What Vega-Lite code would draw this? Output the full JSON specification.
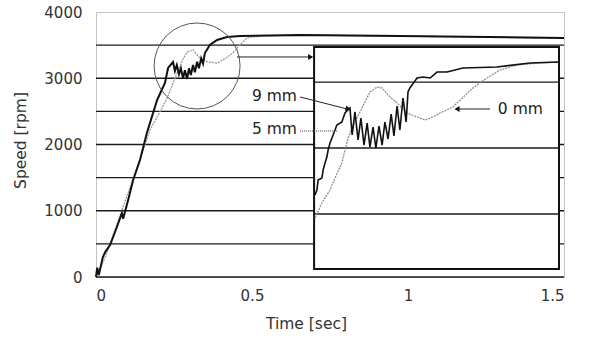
{
  "$schema": "https://vega.github.io/schema/vega-lite/v6.json",
  "width": 468,
  "height": 265,
  "autosize": "none",
  "padding": {"left": 96, "top": 12, "right": 27, "bottom": 65},
  "background": "white",
  "config": {
    "view": {"stroke": "#8a8a8a", "strokeDash": [1, 1], "strokeWidth": 1},
    "font": "DejaVu Sans",
    "axis": {"labelFont": "DejaVu Sans", "titleFont": "DejaVu Sans", "labelFontSize": 15, "titleFontSize": 15.5, "labelColor": "#333", "titleColor": "#333", "titleFontWeight": "normal", "domain": false, "ticks": false, "grid": false}
  },
  "datasets": {
    "curves": [
      {"series": "9 mm", "t": 0, "s": 0},
      {"series": "9 mm", "t": 0.004, "s": 140},
      {"series": "9 mm", "t": 0.009, "s": 30},
      {"series": "9 mm", "t": 0.022, "s": 302},
      {"series": "9 mm", "t": 0.03, "s": 380},
      {"series": "9 mm", "t": 0.045, "s": 483},
      {"series": "9 mm", "t": 0.067, "s": 755},
      {"series": "9 mm", "t": 0.083, "s": 966},
      {"series": "9 mm", "t": 0.087, "s": 880},
      {"series": "9 mm", "t": 0.103, "s": 1162},
      {"series": "9 mm", "t": 0.119, "s": 1464},
      {"series": "9 mm", "t": 0.141, "s": 1766},
      {"series": "9 mm", "t": 0.163, "s": 2174},
      {"series": "9 mm", "t": 0.196, "s": 2672},
      {"series": "9 mm", "t": 0.221, "s": 2928},
      {"series": "9 mm", "t": 0.231, "s": 3155},
      {"series": "9 mm", "t": 0.247, "s": 3245},
      {"series": "9 mm", "t": 0.253, "s": 3110},
      {"series": "9 mm", "t": 0.259, "s": 3200},
      {"series": "9 mm", "t": 0.266, "s": 3060},
      {"series": "9 mm", "t": 0.272, "s": 3150},
      {"series": "9 mm", "t": 0.279, "s": 3000},
      {"series": "9 mm", "t": 0.285, "s": 3120},
      {"series": "9 mm", "t": 0.292, "s": 2990},
      {"series": "9 mm", "t": 0.298, "s": 3150},
      {"series": "9 mm", "t": 0.304, "s": 3050},
      {"series": "9 mm", "t": 0.311, "s": 3200},
      {"series": "9 mm", "t": 0.317, "s": 3090},
      {"series": "9 mm", "t": 0.324, "s": 3250},
      {"series": "9 mm", "t": 0.33, "s": 3150},
      {"series": "9 mm", "t": 0.337, "s": 3300},
      {"series": "9 mm", "t": 0.343, "s": 3220},
      {"series": "9 mm", "t": 0.349, "s": 3380},
      {"series": "9 mm", "t": 0.365, "s": 3502},
      {"series": "9 mm", "t": 0.388, "s": 3577},
      {"series": "9 mm", "t": 0.42, "s": 3623},
      {"series": "9 mm", "t": 0.462, "s": 3638},
      {"series": "9 mm", "t": 0.654, "s": 3653},
      {"series": "9 mm", "t": 0.974, "s": 3638},
      {"series": "9 mm", "t": 1.5, "s": 3608},
      {"series": "0 mm", "t": 0, "s": 0},
      {"series": "0 mm", "t": 0.03, "s": 300},
      {"series": "0 mm", "t": 0.06, "s": 700},
      {"series": "0 mm", "t": 0.09, "s": 1100},
      {"series": "0 mm", "t": 0.119, "s": 1480},
      {"series": "0 mm", "t": 0.15, "s": 1900},
      {"series": "0 mm", "t": 0.173, "s": 2219},
      {"series": "0 mm", "t": 0.2, "s": 2450},
      {"series": "0 mm", "t": 0.228, "s": 2700},
      {"series": "0 mm", "t": 0.26, "s": 3079},
      {"series": "0 mm", "t": 0.28, "s": 3300},
      {"series": "0 mm", "t": 0.292, "s": 3396},
      {"series": "0 mm", "t": 0.311, "s": 3426},
      {"series": "0 mm", "t": 0.333, "s": 3306},
      {"series": "0 mm", "t": 0.359, "s": 3245},
      {"series": "0 mm", "t": 0.388, "s": 3230},
      {"series": "0 mm", "t": 0.407, "s": 3275},
      {"series": "0 mm", "t": 0.439, "s": 3381},
      {"series": "0 mm", "t": 0.455, "s": 3472},
      {"series": "0 mm", "t": 0.484, "s": 3608},
      {"series": "0 mm", "t": 0.526, "s": 3638},
      {"series": "0 mm", "t": 0.7, "s": 3650},
      {"series": "0 mm", "t": 1.0, "s": 3635},
      {"series": "0 mm", "t": 1.5, "s": 3605}
    ],
    "inset": [
      {"series": "9 mm zoom", "t": 0.702, "s": 1238},
      {"series": "9 mm zoom", "t": 0.708, "s": 1313},
      {"series": "9 mm zoom", "t": 0.712, "s": 1464},
      {"series": "9 mm zoom", "t": 0.724, "s": 1494},
      {"series": "9 mm zoom", "t": 0.728, "s": 1615},
      {"series": "9 mm zoom", "t": 0.734, "s": 1721},
      {"series": "9 mm zoom", "t": 0.74, "s": 1811},
      {"series": "9 mm zoom", "t": 0.744, "s": 1917},
      {"series": "9 mm zoom", "t": 0.75, "s": 2023},
      {"series": "9 mm zoom", "t": 0.76, "s": 2143},
      {"series": "9 mm zoom", "t": 0.772, "s": 2294},
      {"series": "9 mm zoom", "t": 0.788, "s": 2340},
      {"series": "9 mm zoom", "t": 0.798, "s": 2475},
      {"series": "9 mm zoom", "t": 0.814, "s": 2551},
      {"series": "9 mm zoom", "t": 0.821, "s": 2143},
      {"series": "9 mm zoom", "t": 0.83, "s": 2491},
      {"series": "9 mm zoom", "t": 0.84, "s": 2068},
      {"series": "9 mm zoom", "t": 0.849, "s": 2400},
      {"series": "9 mm zoom", "t": 0.859, "s": 1992},
      {"series": "9 mm zoom", "t": 0.869, "s": 2324},
      {"series": "9 mm zoom", "t": 0.878, "s": 1962},
      {"series": "9 mm zoom", "t": 0.888, "s": 2264},
      {"series": "9 mm zoom", "t": 0.897, "s": 1947},
      {"series": "9 mm zoom", "t": 0.907, "s": 2279},
      {"series": "9 mm zoom", "t": 0.917, "s": 1992},
      {"series": "9 mm zoom", "t": 0.926, "s": 2340},
      {"series": "9 mm zoom", "t": 0.936, "s": 2083},
      {"series": "9 mm zoom", "t": 0.946, "s": 2460},
      {"series": "9 mm zoom", "t": 0.955, "s": 2128},
      {"series": "9 mm zoom", "t": 0.965, "s": 2581},
      {"series": "9 mm zoom", "t": 0.974, "s": 2219},
      {"series": "9 mm zoom", "t": 0.984, "s": 2702},
      {"series": "9 mm zoom", "t": 0.994, "s": 2340},
      {"series": "9 mm zoom", "t": 1.0, "s": 2792},
      {"series": "9 mm zoom", "t": 1.006, "s": 2853},
      {"series": "9 mm zoom", "t": 1.029, "s": 3004},
      {"series": "9 mm zoom", "t": 1.048, "s": 3019},
      {"series": "9 mm zoom", "t": 1.071, "s": 3004},
      {"series": "9 mm zoom", "t": 1.093, "s": 3094},
      {"series": "9 mm zoom", "t": 1.125, "s": 3094},
      {"series": "9 mm zoom", "t": 1.176, "s": 3155},
      {"series": "9 mm zoom", "t": 1.285, "s": 3170},
      {"series": "9 mm zoom", "t": 1.391, "s": 3230},
      {"series": "9 mm zoom", "t": 1.481, "s": 3245},
      {"series": "0 mm zoom", "t": 0.702, "s": 891},
      {"series": "0 mm zoom", "t": 0.724, "s": 1117},
      {"series": "0 mm zoom", "t": 0.75, "s": 1313},
      {"series": "0 mm zoom", "t": 0.766, "s": 1494},
      {"series": "0 mm zoom", "t": 0.788, "s": 1721},
      {"series": "0 mm zoom", "t": 0.798, "s": 1917},
      {"series": "0 mm zoom", "t": 0.808, "s": 2098},
      {"series": "0 mm zoom", "t": 0.824, "s": 2294},
      {"series": "0 mm zoom", "t": 0.846, "s": 2491},
      {"series": "0 mm zoom", "t": 0.862, "s": 2641},
      {"series": "0 mm zoom", "t": 0.878, "s": 2792},
      {"series": "0 mm zoom", "t": 0.901, "s": 2868},
      {"series": "0 mm zoom", "t": 0.917, "s": 2853},
      {"series": "0 mm zoom", "t": 0.936, "s": 2747},
      {"series": "0 mm zoom", "t": 0.965, "s": 2626},
      {"series": "0 mm zoom", "t": 0.997, "s": 2475},
      {"series": "0 mm zoom", "t": 1.029, "s": 2415},
      {"series": "0 mm zoom", "t": 1.054, "s": 2370},
      {"series": "0 mm zoom", "t": 1.08, "s": 2415},
      {"series": "0 mm zoom", "t": 1.103, "s": 2475},
      {"series": "0 mm zoom", "t": 1.144, "s": 2566},
      {"series": "0 mm zoom", "t": 1.208, "s": 2853},
      {"series": "0 mm zoom", "t": 1.253, "s": 3004},
      {"series": "0 mm zoom", "t": 1.295, "s": 3124},
      {"series": "0 mm zoom", "t": 1.349, "s": 3200},
      {"series": "0 mm zoom", "t": 1.423, "s": 3230},
      {"series": "0 mm zoom", "t": 1.481, "s": 3245}
    ]
  },
  "layer": [
    {
      "data": {"values": [{"v": 0}, {"v": 500}, {"v": 1000}, {"v": 1500}, {"v": 2000}, {"v": 2500}, {"v": 3000}, {"v": 3500}]},
      "mark": {"type": "rule", "color": "#1a1a1a", "strokeWidth": 1.3},
      "encoding": {
        "y": {"field": "v", "type": "quantitative", "scale": {"domain": [0, 4000], "nice": false},
          "axis": {"values": [0, 500, 1000, 1500, 2000, 2500, 3000, 3500, 4000], "format": "d", "title": "Speed [rpm]", "labelPadding": 14, "titleX": -76, "titleY": 128, "titleBaseline": "middle"}}
      }
    },
    {
      "data": {"name": "curves"},
      "transform": [{"filter": "datum.series == '0 mm'"}],
      "mark": {"type": "line", "color": "#9a9a9a", "strokeWidth": 1.3, "strokeDash": [2, 1]},
      "encoding": {
        "x": {"field": "t", "type": "quantitative", "scale": {"domain": [0, 1.5], "nice": false},
          "axis": {"values": [0, 0.5, 1, 1.5], "format": "~g", "title": "Time [sec]", "labelPadding": 11, "titleX": 210, "titleY": 46, "titleBaseline": "middle"}},
        "y": {"field": "s", "type": "quantitative"}
      }
    },
    {
      "data": {"name": "curves"},
      "transform": [{"filter": "datum.series == '9 mm'"}],
      "mark": {"type": "line", "color": "#111", "strokeWidth": 2},
      "encoding": {
        "x": {"field": "t", "type": "quantitative"},
        "y": {"field": "s", "type": "quantitative"}
      }
    },
    {
      "data": {"values": [{"t": 0.324, "s": 3185}]},
      "mark": {"type": "point", "shape": "circle", "filled": false, "size": 7396, "stroke": "#555", "strokeWidth": 1, "opacity": 1},
      "encoding": {
        "x": {"field": "t", "type": "quantitative"},
        "y": {"field": "s", "type": "quantitative"}
      }
    },
    {
      "data": {"values": [{"t0": 0.699, "t1": 1.484, "s0": 121, "s1": 3472}]},
      "mark": {"type": "rect", "fill": "white", "stroke": "#111", "strokeWidth": 2},
      "encoding": {
        "x": {"field": "t0", "type": "quantitative"},
        "x2": {"field": "t1"},
        "y": {"field": "s0", "type": "quantitative"},
        "y2": {"field": "s1"}
      }
    },
    {
      "data": {"values": [{"t0": 0.699, "t1": 1.484, "s": 2943}, {"t0": 0.699, "t1": 1.484, "s": 1947}, {"t0": 0.699, "t1": 1.484, "s": 951}]},
      "mark": {"type": "rule", "color": "#1a1a1a", "strokeWidth": 1.3},
      "encoding": {
        "x": {"field": "t0", "type": "quantitative"},
        "x2": {"field": "t1"},
        "y": {"field": "s", "type": "quantitative"}
      }
    },
    {
      "data": {"name": "inset"},
      "transform": [{"filter": "datum.series == '0 mm zoom'"}],
      "mark": {"type": "line", "color": "#8f8f8f", "strokeWidth": 1.3, "strokeDash": [2, 1]},
      "encoding": {
        "x": {"field": "t", "type": "quantitative"},
        "y": {"field": "s", "type": "quantitative"}
      }
    },
    {
      "data": {"name": "inset"},
      "transform": [{"filter": "datum.series == '9 mm zoom'"}],
      "mark": {"type": "line", "color": "#111", "strokeWidth": 1.6},
      "encoding": {
        "x": {"field": "t", "type": "quantitative"},
        "y": {"field": "s", "type": "quantitative"}
      }
    },
    {
      "data": {"values": [
        {"ta": 0.452, "sa": 3321, "tb": 0.69, "sb": 3321},
        {"ta": 0.654, "sa": 2717, "tb": 0.81, "sb": 2530},
        {"ta": 1.263, "sa": 2536, "tb": 1.155, "sb": 2536}
      ]},
      "mark": {"type": "rule", "color": "#222", "strokeWidth": 1},
      "encoding": {
        "x": {"field": "ta", "type": "quantitative"},
        "x2": {"field": "tb"},
        "y": {"field": "sa", "type": "quantitative"},
        "y2": {"field": "sb"}
      }
    },
    {
      "data": {"values": [{"ta": 0.654, "sa": 2204, "tb": 0.776, "sb": 2204}]},
      "mark": {"type": "rule", "color": "#444", "strokeWidth": 1, "strokeDash": [1, 1]},
      "encoding": {
        "x": {"field": "ta", "type": "quantitative"},
        "x2": {"field": "tb"},
        "y": {"field": "sa", "type": "quantitative"},
        "y2": {"field": "sb"}
      }
    },
    {
      "data": {"values": [{"t": 0.688, "s": 3321}]},
      "mark": {"type": "point", "shape": "triangle-right", "filled": true, "size": 35, "color": "#111", "opacity": 1},
      "encoding": {"x": {"field": "t", "type": "quantitative"}, "y": {"field": "s", "type": "quantitative"}}
    },
    {
      "data": {"values": [{"t": 0.808, "s": 2537}]},
      "mark": {"type": "point", "shape": "triangle-right", "angle": 15, "filled": true, "size": 35, "color": "#111", "opacity": 1},
      "encoding": {"x": {"field": "t", "type": "quantitative"}, "y": {"field": "s", "type": "quantitative"}}
    },
    {
      "data": {"values": [{"t": 1.157, "s": 2536}]},
      "mark": {"type": "point", "shape": "triangle-left", "filled": true, "size": 35, "color": "#111", "opacity": 1},
      "encoding": {"x": {"field": "t", "type": "quantitative"}, "y": {"field": "s", "type": "quantitative"}}
    },
    {
      "data": {"values": [{"t": 0.644, "s": 2732, "label": "9 mm"}, {"t": 0.644, "s": 2234, "label": "5 mm"}]},
      "mark": {"type": "text", "align": "right", "baseline": "middle", "fontSize": 15.5, "font": "DejaVu Sans", "color": "#222"},
      "encoding": {"x": {"field": "t", "type": "quantitative"}, "y": {"field": "s", "type": "quantitative"}, "text": {"field": "label"}}
    },
    {
      "data": {"values": [{"t": 1.288, "s": 2536, "label": "0 mm"}]},
      "mark": {"type": "text", "align": "left", "baseline": "middle", "fontSize": 15.5, "font": "DejaVu Sans", "color": "#222"},
      "encoding": {"x": {"field": "t", "type": "quantitative"}, "y": {"field": "s", "type": "quantitative"}, "text": {"field": "label"}}
    }
  ]
}
